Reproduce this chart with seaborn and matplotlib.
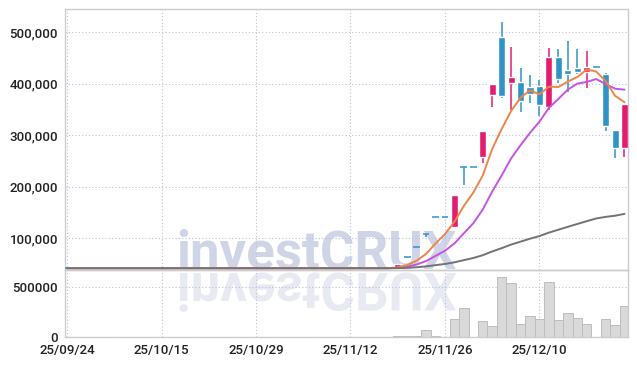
import numpy as np
import pandas as pd
import matplotlib
matplotlib.use("Agg")
import matplotlib.pyplot as plt
import seaborn as sns
from matplotlib.textpath import TextPath
from matplotlib.patches import PathPatch
from matplotlib.font_manager import FontProperties
from matplotlib.transforms import Affine2D
from matplotlib.ticker import FuncFormatter

# KRX trading days (Chuseok break skipped)
holidays = ["2025-10-03", "2025-10-06", "2025-10-07", "2025-10-08", "2025-10-09"]
dates = pd.bdate_range("2025-09-24", periods=60, freq="C", holidays=holidays)
tick_labels = ["25/09/24", "25/10/15", "25/10/29", "25/11/12", "25/11/26", "25/12/10"]

# suspended period: price stuck, no volume
flat = 41800
n_flat = 35

open_ = [flat] * n_flat + [41800, 64300, 83700, 109000, 141900, 141900, 121400, 237900, 237900, 257300,
                           378200, 490300, 402400, 403800, 394100, 395800, 355200, 452000, 426900, 430700,
                           423600, 432700, 419800, 310300, 275900]
high = [flat] * n_flat + [50100, 64300, 83700, 109000, 141900, 141900, 184000, 237900, 237900, 308300,
                          400500, 520600, 470900, 430400, 417600, 407000, 470300, 467500, 483100, 467000,
                          463800, 432700, 421000, 310300, 360800]
low = [flat] * n_flat + [41800, 64300, 83700, 103000, 141900, 141900, 121400, 203500, 237900, 245600,
                         355000, 371800, 350000, 344600, 362700, 337800, 349000, 402400, 384900, 418700,
                         392700, 432700, 309200, 255300, 257300]
close = [flat] * n_flat + [50100, 64300, 83700, 109000, 141900, 141900, 184000, 237900, 237900, 308300,
                           399500, 376900, 413800, 366900, 379900, 359700, 452000, 410000, 419800, 423600,
                           433300, 432700, 318300, 275900, 360800]
volume = [0] * n_flat + [8000, 4000, 4000, 66000, 5000, 0, 176000, 287000, 0, 157000,
                         108000, 601000, 540000, 129000, 206000, 176000, 550000, 166000, 237000, 186000,
                         125000, 0, 176000, 118000, 313000]

UP = "#e31c6e"
DOWN = "#2f93c8"

df = pd.DataFrame({"date": dates, "open": open_, "high": high, "low": low,
                   "close": close, "volume": volume})
df["x"] = np.arange(len(df))
df["ma5"] = df["close"].rolling(5, min_periods=1).mean()
df["ma10"] = df["close"].rolling(10, min_periods=1).mean()
df["ma60"] = df["close"].rolling(60, min_periods=1).mean()

sns.set_theme(style="white")
plt.rcParams["font.family"] = ["Roboto", "DejaVu Sans"]

fig = plt.figure(figsize=(6.37, 3.66), dpi=100)
fig.patch.set_facecolor("white")
ax = fig.add_axes([0.102, 0.261, 0.884, 0.7136])
axv = fig.add_axes([0.102, 0.080, 0.884, 0.181], sharex=ax)
for a in (ax, axv):
    a.set_facecolor("none")

# watermark + its reflection
wm_font = FontProperties(family="Roboto", weight="bold")
fig.text(176.7 / 637, 97.3 / 366, "investCRUX", fontproperties=wm_font, fontsize=38,
         color="#cfd4e7", ha="left", va="baseline", zorder=-2)
tp = TextPath((0, 0), "investCRUX", size=38 * 100 / 72, prop=wm_font)
refl = PathPatch(tp, transform=Affine2D().scale(1, -1).translate(176.7, 93),
                 facecolor="#e8eaf2", edgecolor="none", zorder=-2)
fig.add_artist(refl)

# candles
up = df[df.close > df.open]
dn = df[df.close < df.open]
dj = df[df.close == df.open]
ax.vlines(up.x, up.low, up.high, color=UP, lw=1.1, zorder=2)
ax.bar(up.x, up.close - up.open, bottom=up.open, width=0.75, color=UP, zorder=3)
ax.vlines(dn.x, dn.low, dn.high, color=DOWN, lw=1.1, zorder=2)
ax.bar(dn.x, dn.close - dn.open, bottom=dn.open, width=0.75, color=DOWN, zorder=3)
ax.vlines(dj.x, dj.low, dj.high, color=DOWN, lw=1.1, zorder=2)
ax.hlines(dj.close, dj.x - 0.36, dj.x + 0.36, color=DOWN, lw=1.1, zorder=3)

# moving averages
sns.lineplot(data=df, x="x", y="ma10", color="#c653e6", lw=1.4, ax=ax, zorder=4)
sns.lineplot(data=df, x="x", y="ma5", color="#ee8548", lw=1.4, ax=ax, zorder=5)
sns.lineplot(data=df, x="x", y="ma60", color="#737373", lw=1.4, ax=ax, zorder=6)

# volume
sns.barplot(data=df, x="x", y="volume", native_scale=True, color="#d9d9d9",
            edgecolor="#bdbdbd", linewidth=0.7, width=1.0, saturation=1, ax=axv)

tick_pos = [int(np.where(df.date.dt.strftime("%y/%m/%d") == t)[0][0]) for t in tick_labels]

ax.set_xlim(-0.22, 59.38)
ax.set_ylim(37470, 544650)
axv.set_ylim(0, 670000)
ax.set_yticks([100000, 200000, 300000, 400000, 500000])
ax.yaxis.set_major_formatter(FuncFormatter(lambda v, p: f"{int(v):,}"))
axv.set_yticks([0, 500000])
axv.yaxis.set_major_formatter(FuncFormatter(lambda v, p: f"{int(v)}"))
axv.set_xticks(tick_pos)
axv.set_xticklabels(tick_labels)
ax.tick_params(labelbottom=False)

for a in (ax, axv):
    a.set_xlabel("")
    a.set_ylabel("")
    a.grid(True, color="#b9c0dc", linestyle=(0, (1, 2)), linewidth=0.8)
    a.set_axisbelow(True)
    a.tick_params(length=0, labelsize=9.5, labelcolor="#222222", pad=5)
    for lbl in a.get_xticklabels() + a.get_yticklabels():
        lbl.set_fontweight("medium")
    for s in a.spines.values():
        s.set_color("#cccccc")
        s.set_linewidth(1)

fig.savefig("out.png", dpi=100)
